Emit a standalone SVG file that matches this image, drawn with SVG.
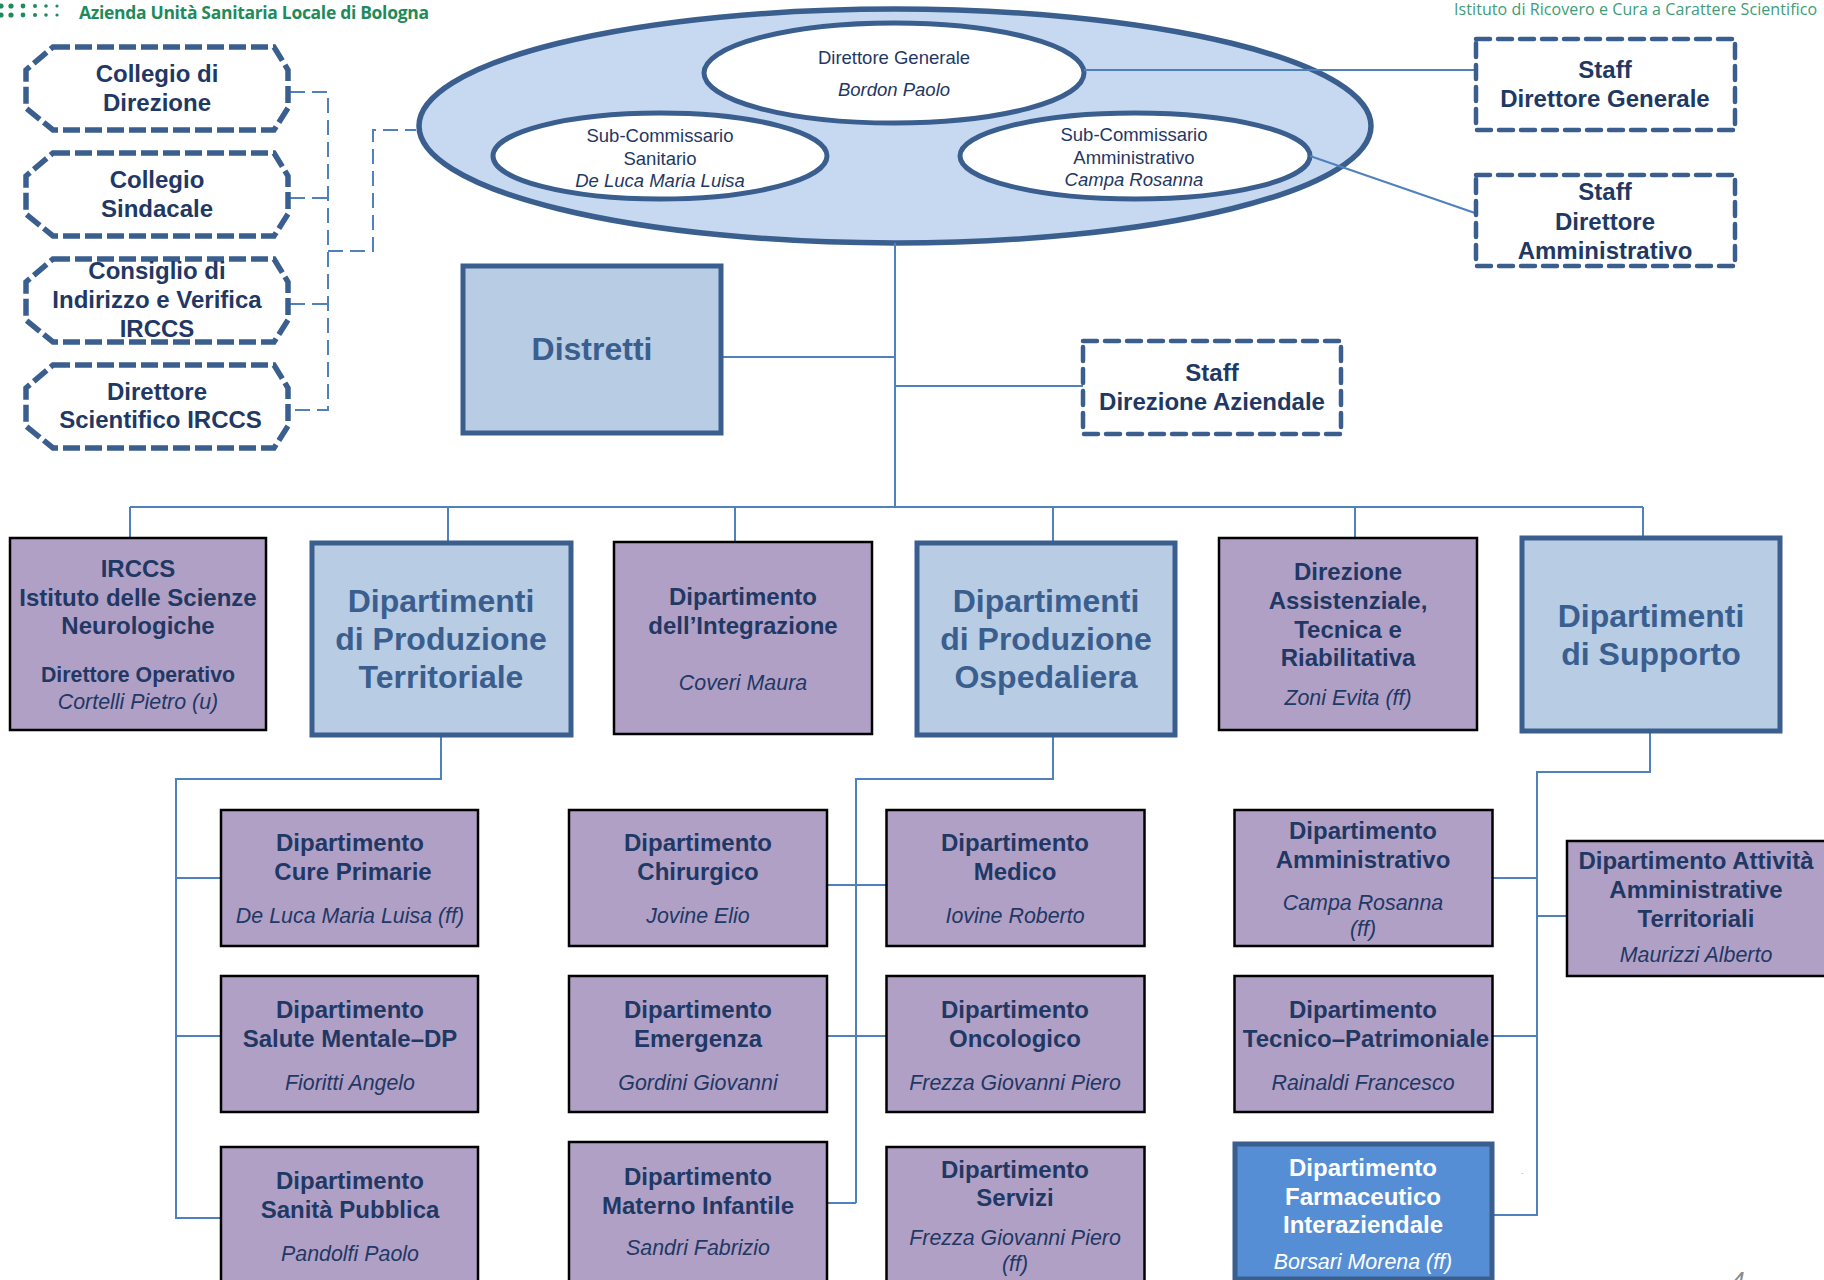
<svg xmlns="http://www.w3.org/2000/svg" width="1824" height="1280" viewBox="0 0 1824 1280">
<style>
text{font-family:"Liberation Sans",Arial,sans-serif;text-anchor:middle;fill:#1f3864}
.h{font-weight:bold;font-size:24px;transform:translateY(-.7px)}
.b{font-weight:bold;font-size:32px;fill:#3a5f8f;transform:translateY(-.7px)}
.i{font-style:italic;font-size:21.4px}
.e{font-size:18.5px}
.ei{font-size:18.5px;font-style:italic}
.w{fill:#fff}
.oct{fill:#fff;stroke:#3a5f8f;stroke-width:5.5;stroke-dasharray:17 5}
.st{fill:#fff;stroke:#3a5f8f;stroke-width:4.5;stroke-dasharray:14 8;stroke-linecap:round;stroke-linejoin:round}
.p{fill:#b1a0c6;stroke:#000;stroke-width:2.5}
.bl{fill:#b8cce4;stroke:#3a5f8f;stroke-width:5}
.c{fill:none;stroke:#4f81bd;stroke-width:2}
.d{fill:none;stroke:#4f81bd;stroke-width:2;stroke-dasharray:15 7}
.lg{font-size:17.5px;text-anchor:start}
</style>
<g id="logos">
<g fill="#1f8a5a"><circle cx="1" cy="6" r="2.6"/><circle cx="1" cy="15" r="2.6"/><circle cx="11" cy="6" r="2.6"/><circle cx="11" cy="15" r="2.6"/><circle cx="23" cy="6" r="2.4"/><circle cx="23" cy="15" r="2.4"/><circle cx="35" cy="6" r="2"/><circle cx="35" cy="15" r="2"/><circle cx="46" cy="6" r="1.8"/><circle cx="46" cy="15" r="1.8"/><circle cx="57" cy="6" r="1.6"/><circle cx="57" cy="15" r="1.6"/></g>
<text class="lg" x="79" y="19" style="fill:#1f8a5a;font-family:'Open Sans',sans-serif;font-weight:700" textLength="350">Azienda Unità Sanitaria Locale di Bologna</text>
<text class="lg" x="1454" y="15" style="fill:#3d9c78;font-family:'Open Sans',sans-serif;font-size:16px" textLength="363">Istituto di Ricovero e Cura a Carattere Scientifico</text>
</g>
<g id="direzione">
<ellipse cx="895" cy="126" rx="476" ry="117" fill="#c6d9f1" stroke="#3a5f8f" stroke-width="5.5"/>
<ellipse cx="894" cy="73" rx="190" ry="50" fill="#fff" stroke="#3a5f8f" stroke-width="5"/>
<ellipse cx="660" cy="156" rx="167" ry="43" fill="#fff" stroke="#3a5f8f" stroke-width="5"/>
<ellipse cx="1135" cy="156" rx="175" ry="43" fill="#fff" stroke="#3a5f8f" stroke-width="5"/>
<text class="e" x="894" y="63.500">Direttore Generale</text><text class="ei" x="894" y="96">Bordon Paolo</text>
<text class="e" x="660" y="141.500">Sub-Commissario</text><text class="e" x="660" y="164.500">Sanitario</text><text class="ei" x="660" y="186.500">De Luca Maria Luisa</text>
<text class="e" x="1134" y="140.500">Sub-Commissario</text><text class="e" x="1134" y="163.500">Amministrativo</text><text class="ei" x="1134" y="185.500">Campa Rosanna</text>
</g>
<g id="connectors">
<path class="d" d="M290 92H328V410H290M290 198H328M290 304H328M328 251H373V130H416"/>
<path class="c" d="M1084 70H1475M1310 156L1475 213"/>
<path class="c" d="M895 243V507M721 357H895M895 386H1083M130 507H1643M130 507V538M448 507V542M735 507V542M1053 507V542M1355 507V538M1643 507V538"/>
<path class="c" d="M441 735V779H176V1218H221M176 878H221M176 1036H221"/>
<path class="c" d="M1053 735V779H856V1203M827 885H886M827 1036H886M827 1203H856"/>
<path class="c" d="M1650 731V772H1537V1215H1493M1492 878H1537M1492 1036H1537M1537 916H1567"/>
</g>
<g id="collegio-direzione"><path class="oct" d="M53 47H274L288 70V108L274 130H53L26 108V70Z"/><text class="h" x="157" y="83">Collegio di</text><text class="h" x="157" y="112">Direzione</text></g>
<g id="collegio-sindacale"><path class="oct" d="M53 153H274L288 176V214L274 236H53L26 214V176Z"/><text class="h" x="157" y="189">Collegio</text><text class="h" x="157" y="218">Sindacale</text></g>
<g id="consiglio"><path class="oct" d="M53 259H274L288 282V320L274 342H53L26 320V282Z"/><text class="h" x="157" y="280">Consiglio di</text><text class="h" x="157" y="309">Indirizzo e Verifica</text><text class="h" x="157" y="338">IRCCS</text></g>
<g id="direttore-scientifico"><path class="oct" d="M53 365H274L288 388V426L274 448H53L26 426V388Z"/><text class="h" x="157" y="401">Direttore</text><text class="h" x="160.500" y="429">Scientifico IRCCS</text></g>
<g id="staff-dg"><rect class="st" x="1476" y="39" width="259" height="91"/><text class="h" x="1605" y="79">Staff</text><text class="h" x="1605" y="108">Direttore Generale</text></g>
<g id="staff-da"><rect class="st" x="1476" y="175" width="259" height="91"/><text class="h" x="1605" y="201">Staff</text><text class="h" x="1605" y="231">Direttore</text><text class="h" x="1605" y="260">Amministrativo</text></g>
<g id="staff-az"><rect class="st" x="1083" y="341" width="258" height="93"/><text class="h" x="1212" y="382">Staff</text><text class="h" x="1212" y="411">Direzione Aziendale</text></g>
<g id="distretti"><rect class="bl" x="463" y="266" width="258" height="167"/><text class="b" x="592" y="361">Distretti</text></g>
<g id="irccs"><rect class="p" x="10" y="538" width="256" height="192"/><text class="h" x="138" y="578">IRCCS</text><text class="h" x="138" y="607">Istituto delle Scienze</text><text class="h" x="138" y="635">Neurologiche</text><text class="h" x="138" y="683" style="font-size:21.300px">Direttore Operativo</text><text class="i" x="138" y="709">Cortelli Pietro (u)</text></g>
<g id="prod-terr"><rect class="bl" x="312" y="543" width="259" height="192"/><text class="b" x="441" y="613">Dipartimenti</text><text class="b" x="441" y="651">di Produzione</text><text class="b" x="441" y="689">Territoriale</text></g>
<g id="integrazione"><rect class="p" x="614" y="542" width="258" height="192"/><text class="h" x="743" y="606">Dipartimento</text><text class="h" x="743" y="635">dell’Integrazione</text><text class="i" x="743" y="690">Coveri Maura</text></g>
<g id="prod-osp"><rect class="bl" x="917" y="543" width="258" height="192"/><text class="b" x="1046" y="613">Dipartimenti</text><text class="b" x="1046" y="651">di Produzione</text><text class="b" x="1046" y="689">Ospedaliera</text></g>
<g id="dir-ass"><rect class="p" x="1219" y="538" width="258" height="192"/><text class="h" x="1348" y="581">Direzione</text><text class="h" x="1348" y="610">Assistenziale,</text><text class="h" x="1348" y="639">Tecnica e</text><text class="h" x="1348" y="667">Riabilitativa</text><text class="i" x="1348" y="705">Zoni Evita (ff)</text></g>
<g id="supporto"><rect class="bl" x="1522" y="538" width="258" height="193"/><text class="b" x="1651" y="628">Dipartimenti</text><text class="b" x="1651" y="666">di Supporto</text></g>
<g id="cure"><rect class="p" x="221" y="810" width="257" height="136"/><text class="h" x="350" y="852">Dipartimento</text><text class="h" x="353" y="881">Cure Primarie</text><text class="i" x="350" y="923">De Luca Maria Luisa (ff)</text></g>
<g id="salute"><rect class="p" x="221" y="976" width="257" height="136"/><text class="h" x="350" y="1019">Dipartimento</text><text class="h" x="350" y="1048">Salute Mentale–DP</text><text class="i" x="350" y="1089.500">Fioritti Angelo</text></g>
<g id="sanita"><rect class="p" x="221" y="1147" width="257" height="140"/><text class="h" x="350" y="1190">Dipartimento</text><text class="h" x="350" y="1219">Sanità Pubblica</text><text class="i" x="350" y="1260.500">Pandolfi Paolo</text></g>
<g id="chirurgico"><rect class="p" x="569" y="810" width="258" height="136"/><text class="h" x="698" y="852">Dipartimento</text><text class="h" x="698" y="881">Chirurgico</text><text class="i" x="698" y="923">Jovine Elio</text></g>
<g id="emergenza"><rect class="p" x="569" y="976" width="258" height="136"/><text class="h" x="698" y="1019">Dipartimento</text><text class="h" x="698" y="1048">Emergenza</text><text class="i" x="698" y="1089.500">Gordini Giovanni</text></g>
<g id="materno"><rect class="p" x="569" y="1142" width="258" height="145"/><text class="h" x="698" y="1186">Dipartimento</text><text class="h" x="698" y="1215">Materno Infantile</text><text class="i" x="698" y="1255">Sandri Fabrizio</text></g>
<g id="medico"><rect class="p" x="886.500" y="810" width="258" height="136"/><text class="h" x="1015" y="852">Dipartimento</text><text class="h" x="1015" y="881">Medico</text><text class="i" x="1015" y="923">Iovine Roberto</text></g>
<g id="oncologico"><rect class="p" x="886.500" y="976" width="258" height="136"/><text class="h" x="1015" y="1019">Dipartimento</text><text class="h" x="1015" y="1048">Oncologico</text><text class="i" x="1015" y="1089.500">Frezza Giovanni Piero</text></g>
<g id="servizi"><rect class="p" x="886.500" y="1147" width="258" height="140"/><text class="h" x="1015" y="1179">Dipartimento</text><text class="h" x="1015" y="1207">Servizi</text><text class="i" x="1015" y="1245">Frezza Giovanni Piero</text><text class="i" x="1015" y="1271">(ff)</text></g>
<g id="amministrativo"><rect class="p" x="1234.500" y="810" width="258" height="136"/><text class="h" x="1363" y="840">Dipartimento</text><text class="h" x="1363" y="869">Amministrativo</text><text class="i" x="1363" y="910">Campa Rosanna</text><text class="i" x="1363" y="936">(ff)</text></g>
<g id="tecnico"><rect class="p" x="1234.500" y="976" width="258" height="136"/><text class="h" x="1363" y="1019">Dipartimento</text><text class="h" x="1366" y="1048">Tecnico–Patrimoniale</text><text class="i" x="1363" y="1090">Rainaldi Francesco</text></g>
<g id="farmaceutico"><rect x="1235" y="1144" width="257" height="135" fill="#568ed6" stroke="#3a5f8f" stroke-width="5"/><text class="h w" x="1363" y="1177">Dipartimento</text><text class="h w" x="1363" y="1206">Farmaceutico</text><text class="h w" x="1363" y="1234">Interaziendale</text><text class="i w" x="1363" y="1269">Borsari Morena (ff)</text></g>
<g id="attivita"><rect class="p" x="1567" y="841" width="259" height="135"/><text class="h" x="1696" y="870">Dipartimento Attività</text><text class="h" x="1696" y="899">Amministrative</text><text class="h" x="1696" y="928">Territoriali</text><text class="i" x="1696" y="962">Maurizzi Alberto</text></g>
<text x="1738" y="1289" style="font-size:24px;fill:#8a8a8a;font-style:italic">4</text>
<text x="1522" y="1174" style="font-size:8px;fill:#4f81bd">.</text>
</svg>
